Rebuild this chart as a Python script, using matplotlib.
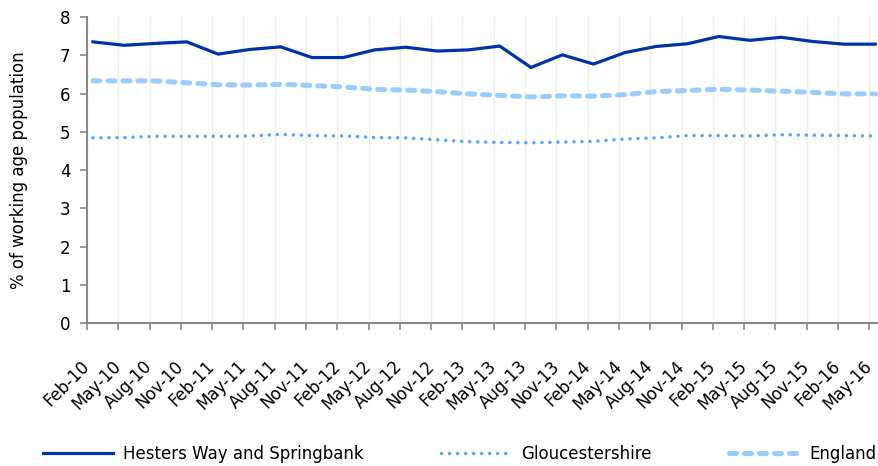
import matplotlib
matplotlib.use("Agg")
import matplotlib.pyplot as plt
import numpy as np

plt.rcParams['font.family'] = ['DejaVu Sans']

months = ["Feb-10", "May-10", "Aug-10", "Nov-10", "Feb-11", "May-11", "Aug-11", "Nov-11",
          "Feb-12", "May-12", "Aug-12", "Nov-12", "Feb-13", "May-13", "Aug-13", "Nov-13",
          "Feb-14", "May-14", "Aug-14", "Nov-14", "Feb-15", "May-15", "Aug-15", "Nov-15",
          "Feb-16", "May-16"]
hesters = [7.35, 7.26, 7.31, 7.35, 7.03, 7.15, 7.22, 6.94, 6.94, 7.14, 7.21, 7.11, 7.14,
           7.24, 6.68, 7.01, 6.77, 7.07, 7.23, 7.30, 7.49, 7.39, 7.47, 7.36, 7.29, 7.29]
glos = [4.84, 4.85, 4.88, 4.88, 4.88, 4.89, 4.93, 4.90, 4.89, 4.85, 4.84, 4.79, 4.74,
        4.72, 4.71, 4.73, 4.75, 4.81, 4.84, 4.90, 4.90, 4.89, 4.92, 4.91, 4.90, 4.89]
england = [6.33, 6.33, 6.33, 6.28, 6.23, 6.22, 6.24, 6.21, 6.17, 6.11, 6.09, 6.05, 5.99,
           5.95, 5.91, 5.94, 5.93, 5.97, 6.05, 6.08, 6.11, 6.09, 6.06, 6.03, 5.99, 5.99]
series_names = ["Hesters Way and Springbank", "Gloucestershire", "England"]
y_ticks = [0, 1, 2, 3, 4, 5, 6, 7, 8]

W, H = 879, 466
FS = 12
fig = plt.figure(figsize=(W / 100, H / 100), dpi=100)
ax = fig.add_axes([87 / W, 1 - 323 / H, (878 - 87) / W, (323 - 17) / H])

x_tick = np.arange(len(months))
x = x_tick + 0.19

ax.plot(x, hesters, color='#0033aa', lw=2.3, solid_joinstyle='miter', label=series_names[0])
ax.plot(x, glos, color='#4da6ff', lw=2.5, linestyle=(0, (0.01, 2.3)),
        dash_capstyle='round', label=series_names[1])
ax.plot(x, england, color='#99ccff', lw=3.6, linestyle=(0, (1.4, 1.6)),
        dash_capstyle='round', label=series_names[2])

ax.set_xlim(0, 25.28)
ax.set_ylim(0, 8)
ax.set_yticks(y_ticks)
ax.set_xticks(x_tick)
ax.set_xticklabels(months, rotation=45, ha='right', va='center', rotation_mode='anchor')
ax.grid(axis='x', color='#eeeeee', lw=1)
ax.set_axisbelow(True)

for s in ['top', 'right']:
    ax.spines[s].set_visible(False)
for s in ['left', 'bottom']:
    ax.spines[s].set_color('#888888')
    ax.spines[s].set_linewidth(1.5)
ax.tick_params(axis='both', colors='#888888', length=5, width=1.2, labelsize=FS,
               labelcolor='black', direction='out')
ax.tick_params(axis='x', pad=24)
ax.tick_params(axis='y', pad=7)
ax.set_ylabel('% of working age population', fontsize=FS)
ax.yaxis.set_label_coords(-(87 - 28) / (878 - 87), 0.5)

fig.legend(loc='center left', bbox_to_anchor=(28 / W, 1 - 454 / H), ncol=3, frameon=False,
           fontsize=FS, handlelength=4.2, handletextpad=0.6, columnspacing=4.65)

fig.savefig('out.png', dpi=100)
